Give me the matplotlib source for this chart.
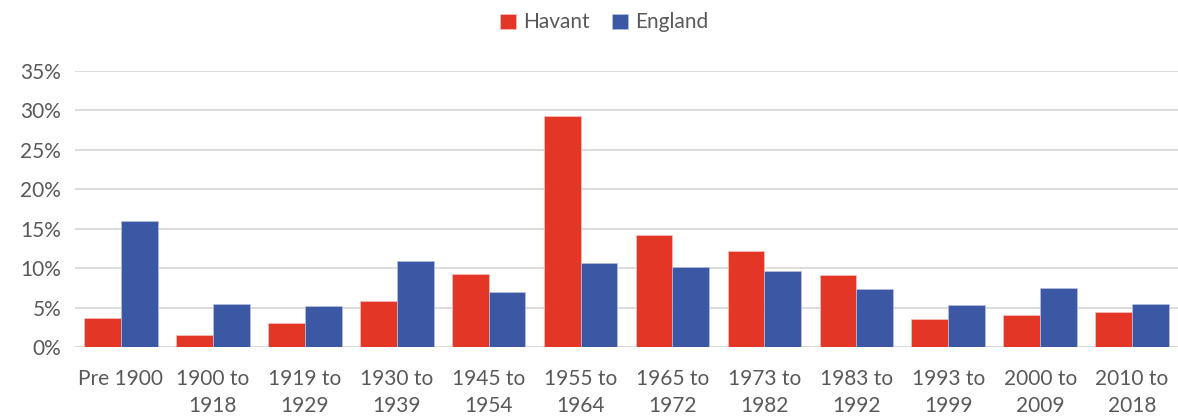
import numpy as np
import matplotlib
matplotlib.use("Agg")
import matplotlib.pyplot as plt
from matplotlib.ticker import FuncFormatter

categories = ["Pre 1900", "1900 to\n1918", "1919 to\n1929", "1930 to\n1939", "1945 to\n1954",
              "1955 to\n1964", "1965 to\n1972", "1973 to\n1982", "1983 to\n1992", "1993 to\n1999",
              "2000 to\n2009", "2010 to\n2018"]
havant = [3.7, 1.5, 3.0, 5.8, 9.3, 29.3, 14.2, 12.2, 9.1, 3.6, 4.1, 4.4]
england = [16.0, 5.5, 5.2, 10.9, 7.0, 10.6, 10.1, 9.6, 7.4, 5.3, 7.5, 5.5]

red = "#E43627"
blue = "#3C57A4"
grey = "#595959"

plt.rcParams['font.family'] = ['Lato', 'DejaVu Sans']

fig = plt.figure(figsize=(11.78, 4.19), dpi=100)
ax = fig.add_axes([0.0637, 0.1718, 0.9363, 0.6587])

x = np.arange(len(categories))
w = 0.4
ax.bar(x - w/2, havant, w, color=red, edgecolor="#f3c0bb", linewidth=0.5, label="Havant", zorder=3)
ax.bar(x + w/2, england, w, color=blue, edgecolor="#b8c2e0", linewidth=0.5, label="England", zorder=3)

ax.set_xlim(-0.5, len(categories) - 0.5)
ax.set_ylim(0, 35)
ax.set_yticks(np.arange(0, 36, 5))
ax.yaxis.set_major_formatter(FuncFormatter(lambda v, p: f"{v:.0f}%"))
ax.grid(axis="y", color="#D9D9D9", linewidth=1.3, zorder=0)
ax.set_xticks(x)
ax.set_xticklabels(categories, linespacing=1.45)
ax.tick_params(axis="both", length=0, colors=grey, labelsize=15)
ax.tick_params(axis="x", pad=16)
ax.tick_params(axis="y", pad=10)
for s in ax.spines.values():
    s.set_visible(False)
ax.axhline(0, color="#D9D9D9", linewidth=1.3, zorder=2)

leg = fig.legend(loc="upper center", bbox_to_anchor=(0.513, 1.015), ncol=2, frameon=False,
                 fontsize=15, handlelength=0.75, handleheight=0.75, handletextpad=0.35,
                 columnspacing=1.1)
for t in leg.get_texts():
    t.set_color(grey)

fig.savefig("out.png", dpi=100)
